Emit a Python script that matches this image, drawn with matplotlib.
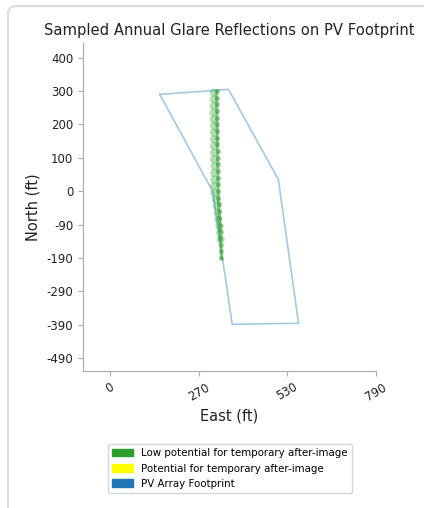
import matplotlib
matplotlib.use("Agg")
import matplotlib.pyplot as plt
from matplotlib.patches import Patch, FancyBboxPatch

# PV array footprint outline (east, north), closed
footprint_east = [148, 352, 500, 560, 363, 305, 148]
footprint_north = [290, 305, 35, -396, -399, -1, 290]

# sampled glare reflection points - main streak
glare_east = [317, 317, 317, 318, 318, 318, 319, 319, 319, 320, 320, 320, 321,
              321, 321, 322, 322, 323, 324, 325, 326, 327, 328, 329, 330, 331]
glare_north = [300, 280, 260, 240, 220, 200, 180, 160, 140, 120, 100, 80, 60,
               40, 20, 0, -20, -40, -60, -80, -100, -120, -140, -160, -180, -200]

# lighter scattered points on the west side of the streak
glare2_east = [308, 308, 308, 308, 308, 309, 309, 309, 309, 309, 309, 310, 310,
               310, 310, 311, 314, 317, 320, 322, 325, 327, 329]
glare2_north = [295, 275, 255, 235, 215, 195, 175, 155, 135, 115, 95, 75, 55,
                35, 15, -5, -25, -45, -65, -85, -105, -125, -145]

x_ticks = [0, 263.3, 526.7, 790]
x_labels = ['0', '270', '530', '790']
y_ticks = [400, 300, 200, 100, 0, -100, -200, -300, -400, -500]
y_labels = ['400', '300', '200', '100', '0', '-90', '-190', '-290', '-390', '-490']

legend_labels = ['Low potential for temporary after-image',
                 'Potential for temporary after-image',
                 'PV Array Footprint']
legend_colors = ['#2ca02c', '#ffff00', '#1f77b4']

fig = plt.figure(figsize=(4.24, 5.08), dpi=100)

# container frame
frame = FancyBboxPatch((8, -30), 450, 532, boxstyle="round,pad=0,rounding_size=8",
                       transform=None, facecolor='none', edgecolor='#dddddd',
                       linewidth=1.5)
fig.patches.append(frame)

ax = fig.add_axes([83 / 424, 1 - 371 / 508, 293 / 424, 328 / 508])

ax.plot(footprint_east, footprint_north, color='#1f77b4', alpha=0.4, linewidth=1.2)
ax.scatter(glare2_east, glare2_north, s=34, color='#2ca02c', alpha=0.35,
           edgecolors='none')
ax.plot(glare_east, glare_north, color='#2ca02c', alpha=0.5, linewidth=2.2,
        marker='o', markersize=3.5, markeredgewidth=0)

ax.set_xlim(-80, 790)
ax.set_ylim(-539, 444)
ax.set_xticks(x_ticks)
ax.set_xticklabels(x_labels, rotation=30)
ax.set_yticks(y_ticks)
ax.set_yticklabels(y_labels)

for side in ['top', 'right']:
    ax.spines[side].set_visible(False)
for side in ['left', 'bottom']:
    ax.spines[side].set_color('#aaaaaa')
ax.tick_params(colors='#aaaaaa', labelcolor='#222222', labelsize=8.5)

ax.set_title('Sampled Annual Glare Reflections on PV Footprint', fontsize=10.6,
             color='#222222')
ax.set_xlabel('East (ft)', fontsize=10.5, color='#222222')
ax.set_ylabel('North (ft)', fontsize=10.5, color='#222222')

handles = [Patch(color=c, label=l) for c, l in zip(legend_colors, legend_labels)]
fig.legend(handles=handles, loc='center', bbox_to_anchor=(230 / 424, 1 - 468.5 / 508),
           fontsize=7.4, frameon=True)

fig.savefig('out.png', dpi=100)
